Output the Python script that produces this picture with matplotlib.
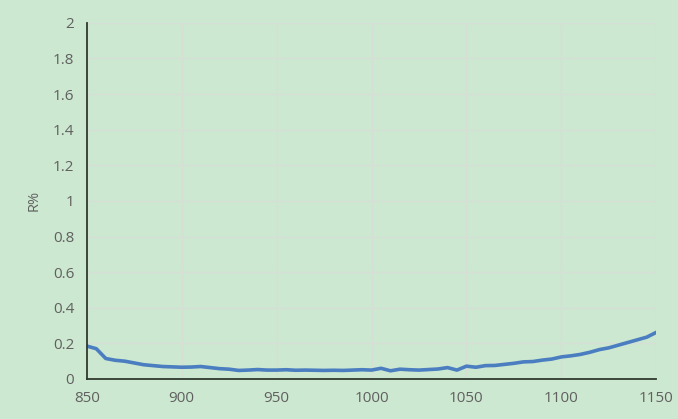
import matplotlib.pyplot as plt

plt.rcParams['font.family'] = ['Open Sans', 'DejaVu Sans']

wavelength = [850, 855, 860, 865, 870, 875, 880, 885, 890, 895, 900, 905, 910, 915, 920,
              925, 930, 935, 940, 945, 950, 955, 960, 965, 970, 975, 980, 985, 990, 995,
              1000, 1005, 1010, 1015, 1020, 1025, 1030, 1035, 1040, 1045, 1050, 1055, 1060,
              1065, 1070, 1075, 1080, 1085, 1090, 1095, 1100, 1105, 1110, 1115, 1120, 1125,
              1130, 1135, 1140, 1145, 1150]
reflectance = [0.185, 0.170, 0.115, 0.105, 0.100, 0.090, 0.080, 0.075, 0.070, 0.068, 0.066, 0.067, 0.070, 0.064, 0.058,
               0.055, 0.048, 0.050, 0.053, 0.050, 0.050, 0.052, 0.049, 0.050, 0.049, 0.048, 0.049, 0.048, 0.050, 0.052,
               0.050, 0.060, 0.046, 0.055, 0.052, 0.050, 0.053, 0.056, 0.064, 0.050, 0.072, 0.066, 0.075, 0.076,
               0.082, 0.088, 0.096, 0.098, 0.106, 0.112, 0.124, 0.130, 0.138, 0.150, 0.165, 0.175,
               0.190, 0.205, 0.220, 0.235, 0.262]

bg = '#cde8d0'
fig = plt.figure(figsize=(6.78, 4.19), dpi=100, facecolor=bg)
ax = fig.add_axes([0.128, 0.0955, 0.840, 0.850], facecolor=bg)

ax.plot(wavelength, reflectance, color='#4a7ec0', linewidth=2.6, solid_capstyle='round')

ax.set_xlim(850, 1150)
ax.set_ylim(0, 2)
ax.set_xticks([850, 900, 950, 1000, 1050, 1100, 1150])
ax.set_yticks([0, 0.2, 0.4, 0.6, 0.8, 1, 1.2, 1.4, 1.6, 1.8, 2])
ax.set_yticklabels(['0', '0.2', '0.4', '0.6', '0.8', '1', '1.2', '1.4', '1.6', '1.8', '2'])
ax.grid(True, color='#d6dfd6', linewidth=1.0)
ax.set_axisbelow(True)

for side in ['top', 'right']:
    ax.spines[side].set_visible(False)
for side in ['left', 'bottom']:
    ax.spines[side].set_color('#2f3a2f')
    ax.spines[side].set_linewidth(1.3)

ax.tick_params(length=0, labelsize=11, colors='#606060', pad=9)
ax.set_ylabel('R%', fontsize=10.5, color='#606060', labelpad=8)

fig.savefig('out.png', dpi=100, facecolor=bg)
